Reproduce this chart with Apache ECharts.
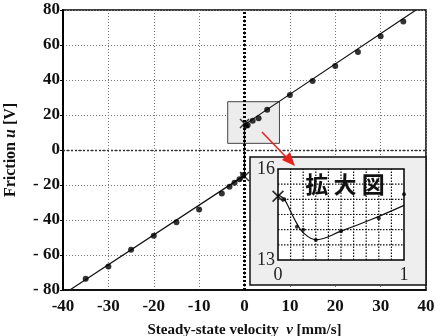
<!DOCTYPE html>
<html>
<head>
<meta charset="utf-8">
<script src="https://cdn.jsdelivr.net/npm/echarts@6/dist/echarts.min.js"></script>
<style>
html,body{margin:0;padding:0;background:#fff;}
#main{width:436px;height:336px;}
</style>
</head>
<body>
<div id="main"></div>
<script>
// main plot data
var posV = [0.3, 0.7, 1.8, 3.1, 5, 10, 15, 20, 25, 30, 35];
var posU = [13.8, 14.3, 16.7, 18.1, 23, 31.5, 39.5, 48, 56, 65, 73.5];
var negV = [-35, -30, -25, -20, -15, -10, -5, -3.3, -2.2, -1.1, -0.3];
var negU = [-73.5, -66.5, -57, -49, -41.3, -34, -24.8, -21, -18.7, -16.7, -14.3];
var fitV = [-38.5, 0, 0, 37.8];
var fitU = [-80, -14.5, 14.5, 80];
var crossV = [0, 0];
var crossU = [15.1, -15.1];
var xTicks = [-40, -30, -20, -10, 0, 10, 20, 30, 40];
var yTicks = [-80, -60, -40, -20, 0, 20, 40, 60, 80];

// inset (拡大図) data
var zoomV = [0.05, 0.15, 0.2, 0.3, 0.5, 0.8, 1.0];
var zoomU = [15.0, 14.1, 14.0, 13.66, 13.95, 14.38, 15.17];
var zoomFitV = [0, 0.05, 0.1, 0.15, 0.2, 0.3, 0.5, 0.75, 1];
var zoomFitU = [15.15, 15.0, 14.6, 14.2, 13.9, 13.67, 13.95, 14.35, 14.8];
var zoomCross = [0, 15.1];
var zoomGridX = [0.1, 0.2, 0.3, 0.4, 0.5, 0.6, 0.7, 0.8, 0.9];
var zoomGridY = [13.5, 14, 14.5, 15, 15.5];

function pairs(a, b){
    return a.map(function(v, i){ return [v, b[i]]; });
}

var crossPath = 'path://M0,1L1,0L5,4L9,0L10,1L6,5L10,9L9,10L5,6L1,10L0,9L4,5Z';
var serif = '"Liberation Serif","DejaVu Serif",serif';

// inset grid lines as thin dotted series (they have to sit above the inset box)
function gridSeries(data){
    return {
        type: 'line', xAxisIndex: 1, yAxisIndex: 1, data: data, silent: true,
        symbol: 'none', lineStyle: {color: '#111', type: [1.5, 1.5], width: 1.2}, z: 8
    };
}
var insetGridSeries = zoomGridX.map(function(v){ return gridSeries([[v, 13], [v, 16]]); })
    .concat(zoomGridY.map(function(v){ return gridSeries([[0, v], [1, v]]); }));

const chart = echarts.init(document.getElementById('main'));
const option = {
    animation: false,
    backgroundColor: '#fff',
    grid: [
        {left: 63, right: 10, top: 10, bottom: 46, outerBoundsMode: 'none', containLabel: false,
         show: true, borderColor: '#000', borderWidth: 1.5, z: 0},
        {left: 278, top: 169, width: 126, height: 91, outerBoundsMode: 'none', containLabel: false,
         show: true, backgroundColor: 'transparent', borderColor: '#000', borderWidth: 1.5, z: 9}
    ],
    xAxis: [
        {
            type: 'value', gridIndex: 0, min: xTicks[0], max: xTicks[xTicks.length - 1], interval: 10,
            name: '{a|Steady-state velocity  }{b|v}{a| [mm/s]}',
            nameLocation: 'middle', nameGap: 33,
            nameTextStyle: {rich: {
                a: {fontFamily: serif, fontWeight: 'bold', fontSize: 15, color: '#111'},
                b: {fontFamily: serif, fontWeight: 'bold', fontStyle: 'italic', fontSize: 15, color: '#111'}
            }},
            axisLine: {show: true, onZero: false, lineStyle: {color: '#000', width: 1.5}},
            axisTick: {show: false},
            axisLabel: {fontFamily: serif, fontWeight: 'bold', fontSize: 17, color: '#111', margin: 8},
            splitLine: {lineStyle: {color: '#777', type: [1, 2], width: 1}}
        },
        {
            type: 'value', gridIndex: 1, min: 0, max: 1, interval: 1, z: 8,
            axisLine: {show: false},
            axisTick: {show: false},
            axisLabel: {fontFamily: serif, fontSize: 18, color: '#222', margin: 6},
            splitLine: {show: false}
        }
    ],
    yAxis: [
        {
            type: 'value', gridIndex: 0, min: yTicks[0], max: yTicks[yTicks.length - 1], interval: 20,
            name: '{a|Friction }{b|u}{a| [V]}',
            nameLocation: 'middle', nameGap: 44, nameRotate: 90,
            nameTextStyle: {rich: {
                a: {fontFamily: serif, fontWeight: 'bold', fontSize: 16, color: '#111'},
                b: {fontFamily: serif, fontWeight: 'bold', fontStyle: 'italic', fontSize: 16, color: '#111'}
            }},
            axisLine: {show: true, onZero: false, lineStyle: {color: '#000', width: 2}},
            axisTick: {show: true, length: 3, lineStyle: {color: '#000'}},
            axisLabel: {
                fontFamily: serif, fontWeight: 'bold', fontSize: 17, color: '#111', margin: 3,
                formatter: function(v){ return v < 0 ? '- ' + (-v) : '' + v; }
            },
            splitLine: {lineStyle: {color: '#777', type: [1, 2], width: 1}}
        },
        {
            type: 'value', gridIndex: 1, min: 13, max: 16, interval: 3, z: 8,
            axisLine: {show: false},
            axisTick: {show: false},
            axisLabel: {fontFamily: serif, fontSize: 18, color: '#222', margin: 3},
            splitLine: {show: false}
        }
    ],
    series: [
        {
            type: 'line', xAxisIndex: 0, yAxisIndex: 0, data: pairs(fitV, fitU),
            symbol: 'none', lineStyle: {color: '#111', width: 1.2}, z: 2,
            markArea: {
                silent: true,
                itemStyle: {color: '#ececec', borderColor: '#444', borderWidth: 1},
                data: [[{coord: [-3.7, 27.6]}, {coord: [7.7, 3.8]}]]
            },
            markLine: {
                silent: true, symbol: 'none', label: {show: false},
                data: [
                    {xAxis: 0, lineStyle: {color: '#000', type: [2, 2], width: 3}},
                    {yAxis: 0, lineStyle: {color: '#333', type: [2, 2], width: 1.3}}
                ]
            }
        },
        {
            type: 'scatter', xAxisIndex: 0, yAxisIndex: 0, data: pairs(posV, posU).concat(pairs(negV, negU)),
            symbol: 'circle', symbolSize: 6, itemStyle: {color: '#000'}, z: 3
        },
        {
            type: 'scatter', xAxisIndex: 0, yAxisIndex: 0, data: pairs(crossV, crossU),
            symbol: crossPath, symbolSize: 10, itemStyle: {color: '#000'}, z: 3
        }
    ].concat(insetGridSeries).concat([
        {
            type: 'line', xAxisIndex: 1, yAxisIndex: 1, data: pairs(zoomFitV, zoomFitU),
            smooth: 0.4, symbol: 'none', lineStyle: {color: '#111', width: 1.2}, z: 8
        },
        {
            type: 'scatter', xAxisIndex: 1, yAxisIndex: 1, data: pairs(zoomV, zoomU),
            symbol: 'circle', symbolSize: 4, itemStyle: {color: '#000'}, z: 8
        },
        {
            type: 'scatter', xAxisIndex: 1, yAxisIndex: 1, data: [zoomCross],
            symbol: crossPath, symbolSize: 12, itemStyle: {color: '#000'}, z: 8
        }
    ]),
    graphic: [
        {type: 'rect', shape: {x: 250, y: 157, width: 176, height: 128}, z: 4,
         style: {fill: '#eeeeee', stroke: '#111', lineWidth: 1.5}},
        {type: 'rect', shape: {x: 278, y: 169, width: 126, height: 91}, z: 4.5,
         style: {fill: '#ffffff'}},
        {type: 'text', x: 345, y: 184, z: 20,
         style: {text: '拡 大 図', font: 'bold 23px "Noto Sans CJK JP"', fill: '#111', align: 'center', verticalAlign: 'middle'}},
        {type: 'line', shape: {x1: 262, y1: 132, x2: 287, y2: 158}, z: 20,
         style: {stroke: '#e8201c', lineWidth: 1.5}},
        {type: 'polygon', shape: {points: [[295, 166], [282, 160], [290, 152]]}, z: 20,
         style: {fill: '#e8201c'}}
    ]
};
chart.setOption(option);
</script>
</body>
</html>
